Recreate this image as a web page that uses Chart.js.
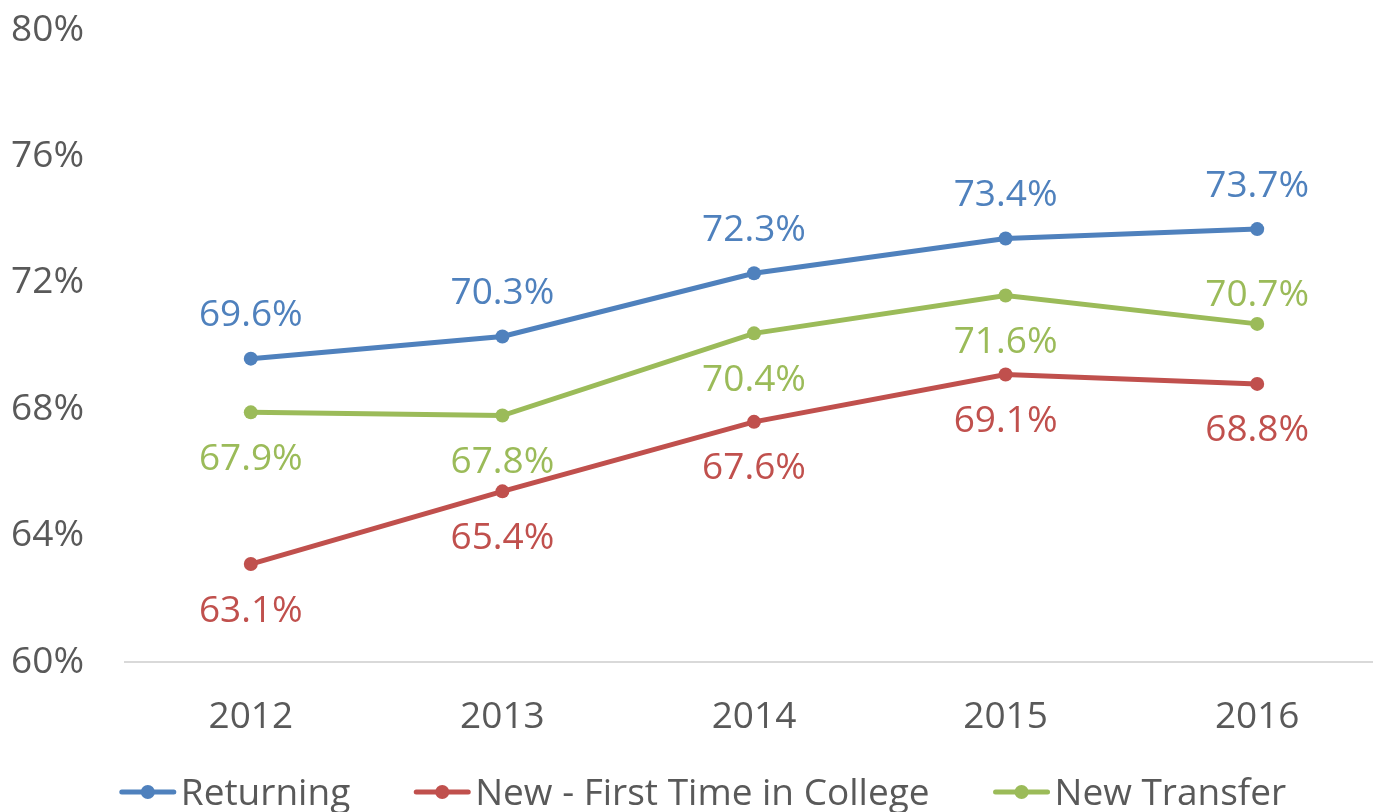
<!DOCTYPE html>
<html lang="en">
  <head>
    <meta charset="UTF-8" />
    <title>Retention by year</title>
    <style>
      html, body { margin: 0; padding: 0; background: #fff; overflow: hidden; }
      .container { width: 1390px; height: 812px; }
    </style>
  </head>
  <body>
    <div class="container">
      <canvas id="myChart" width="1390" height="812"></canvas>
    </div>

    <script src="https://cdn.jsdelivr.net/npm/chart.js"></script>

    <script>
      // data
      const years = ["2012", "2013", "2014", "2015", "2016"];
      const returning = [69.6, 70.3, 72.3, 73.4, 73.7];
      const newFtic = [63.1, 65.4, 67.6, 69.1, 68.8];
      const newTransfer = [67.9, 67.8, 70.4, 71.6, 70.7];
      const yTicks = [60, 64, 68, 72, 76, 80];

      // label offsets from the point (px, negative = above)
      const returningLabelDy = [-43, -43, -43, -43, -43];
      const newFticLabelDy = [47, 47, 47, 47, 47];
      const newTransferLabelDy = [47, 47, 47, 47, -28];

      const FONT = "'Open Sans', sans-serif";
      const TEXT = "#595959";

      const ctx = document.getElementById("myChart").getContext("2d");

      // value labels next to each point
      const pointLabels = {
        id: "pointLabels",
        afterDatasetsDraw(chart) {
          const { ctx } = chart;
          ctx.save();
          ctx.font = `37px ${FONT}`;
          ctx.textAlign = "center";
          ctx.textBaseline = "middle";
          chart.data.datasets.forEach((ds, i) => {
            chart.getDatasetMeta(i).data.forEach((pt, j) => {
              ctx.fillStyle = ds.borderColor;
              ctx.fillText(ds.data[j].toFixed(1) + "%", pt.x, pt.y + ds.labelDy[j]);
            });
          });
          ctx.restore();
        },
      };

      // excel style legend: line with dot, then text
      const bottomLegend = {
        id: "bottomLegend",
        afterDraw(chart) {
          const { ctx } = chart;
          ctx.save();
          ctx.font = `37px ${FONT}`;
          const sets = chart.data.datasets;
          const markW = 56, gapText = 5, gapItem = 64;
          let total = 0;
          sets.forEach((ds, i) => {
            total += markW + gapText + ctx.measureText(ds.label).width;
            if (i < sets.length - 1) total += gapItem;
          });
          let x = 703 - total / 2;
          const y = 792;
          sets.forEach((ds) => {
            ctx.strokeStyle = ds.borderColor;
            ctx.lineWidth = 5;
            ctx.lineCap = "round";
            ctx.beginPath();
            ctx.moveTo(x + 2, y);
            ctx.lineTo(x + markW - 2, y);
            ctx.stroke();
            ctx.fillStyle = ds.borderColor;
            ctx.beginPath();
            ctx.arc(x + markW / 2, y, 7, 0, Math.PI * 2);
            ctx.fill();
            x += markW + gapText;
            ctx.fillStyle = TEXT;
            ctx.textAlign = "left";
            ctx.textBaseline = "middle";
            ctx.fillText(ds.label, x, y + 2);
            x += ctx.measureText(ds.label).width + gapItem;
          });
          ctx.restore();
        },
      };

      function series(label, data, color, labelDy) {
        return {
          label,
          data,
          labelDy,
          borderColor: color,
          backgroundColor: color,
          borderWidth: 5,
          pointRadius: 7,
          pointHoverRadius: 7,
          pointBackgroundColor: color,
          pointBorderWidth: 0,
          tension: 0,
        };
      }

      new Chart(ctx, {
        type: "line",
        data: {
          labels: years,
          datasets: [
            series("Returning", returning, "#4f81bd", returningLabelDy),
            series("New - First Time in College", newFtic, "#c0504d", newFticLabelDy),
            series("New Transfer", newTransfer, "#9bbb59", newTransferLabelDy),
          ],
        },
        options: {
          responsive: false,
          animation: false,
          layout: { padding: { top: 0, right: 5, left: 0, bottom: 0 } },
          plugins: {
            legend: { display: false },
            tooltip: { enabled: false },
          },
          scales: {
            x: {
              offset: true,
              grid: { display: false, drawTicks: false },
              border: { display: true, color: "#d9d9d9", width: 2 },
              ticks: {
                color: TEXT,
                font: { family: FONT, size: 37 },
                padding: 33,
              },
              afterFit(scale) {
                scale.height = 150;
              },
            },
            y: {
              min: 60,
              max: 80,
              afterBuildTicks(scale) {
                scale.ticks = yTicks.map((v) => ({ value: v }));
              },
              grid: { display: false, drawTicks: false },
              border: { display: false },
              ticks: {
                color: TEXT,
                font: { family: FONT, size: 37 },
                padding: 41,
                callback: (v) => v + "%",
              },
              afterFit(scale) {
                scale.width = 125;
                scale.paddingTop = 30;
                scale.paddingBottom = 0;
              },
            },
          },
        },
        plugins: [pointLabels, bottomLegend],
      });
    </script>
  </body>
</html>
